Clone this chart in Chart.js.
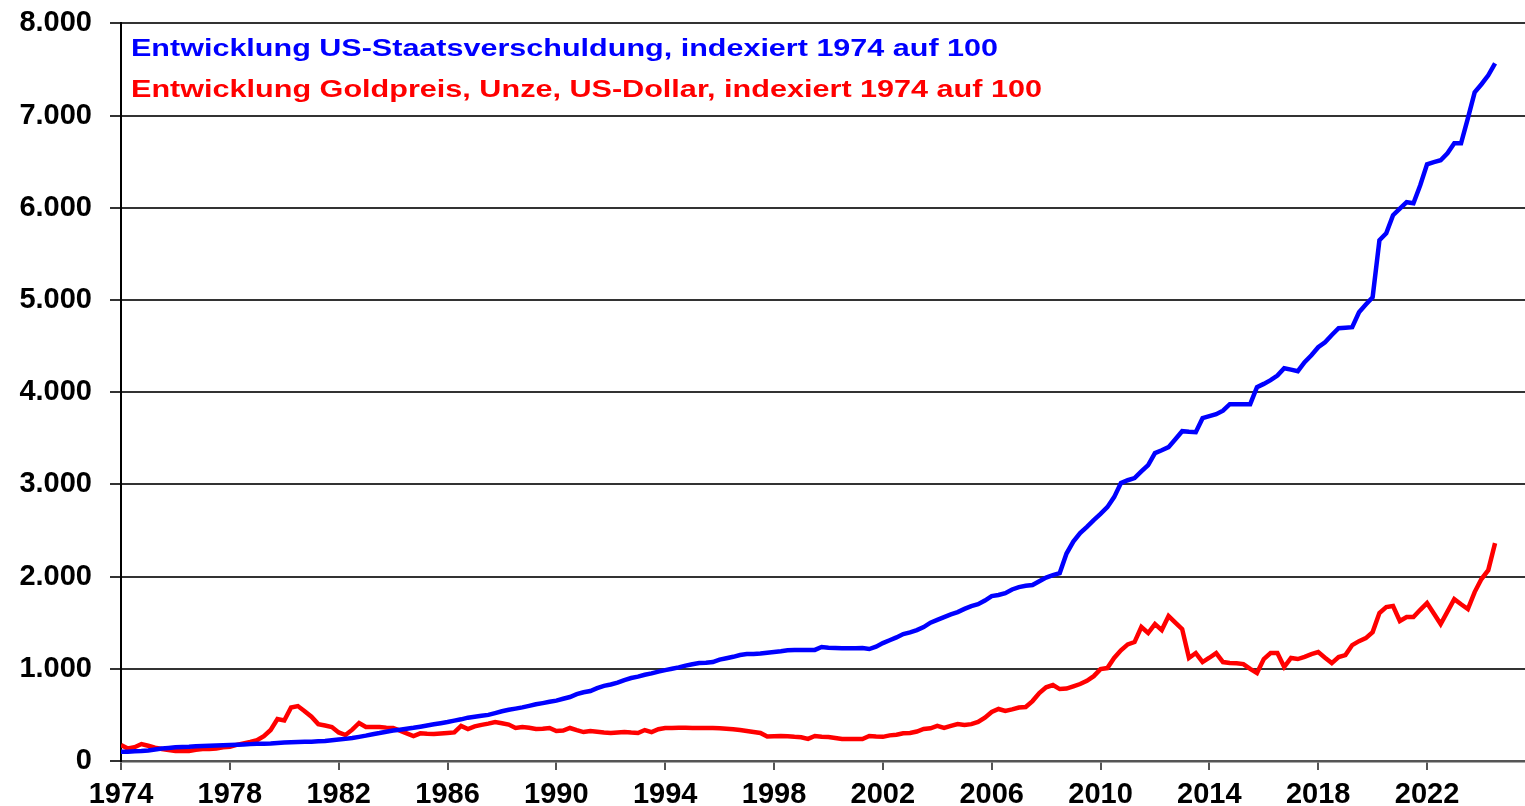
<!DOCTYPE html>
<html>
<head>
<meta charset="utf-8">
<script src="https://cdn.jsdelivr.net/npm/chart.js@4/dist/chart.umd.min.js"></script>
<style>
  html, body { margin: 0; padding: 0; background: #fff; }
  canvas { display: block; }
</style>
</head>
<body>
<canvas id="chart" width="1525" height="806"></canvas>
<script>
// quarterly values, first quarter = 1974, index 1974 = 100
const startYear = 1974;

const debtIndex = [
  100, 100, 105, 108,      // 1974
  115, 125, 135, 142,      // 1975
  148, 152, 155, 160,      // 1976
  163, 166, 168, 170,      // 1977
  173, 176, 180, 183,      // 1978
  186, 188, 190, 195,      // 1979
  200, 203, 205, 208,      // 1980
  210, 213, 217, 225,      // 1981
  232, 240, 249, 262,      // 1982
  275, 290, 303, 318,      // 1983
  330, 340, 350, 360,      // 1984
  372, 385, 398, 410,      // 1985
  423, 438, 452, 470,      // 1986
  480, 490, 500, 520,      // 1987
  540, 555, 568, 582,      // 1988
  598, 615, 628, 642,      // 1989
  655, 675, 694, 725,      // 1990
  745, 759, 790, 815,      // 1991
  830, 850, 878, 900,      // 1992
  915, 935, 950, 970,      // 1993
  986, 1000, 1015, 1035,   // 1994
  1050, 1062, 1065, 1073,  // 1995
  1100, 1115, 1130, 1150,  // 1996
  1160, 1160, 1165, 1175,  // 1997
  1182, 1190, 1200, 1203,  // 1998
  1203, 1203, 1205, 1236,  // 1999
  1228, 1225, 1222, 1222,  // 2000
  1222, 1225, 1214, 1240,  // 2001
  1279, 1310, 1340, 1377,  // 2002
  1395, 1420, 1453, 1500,  // 2003
  1530, 1560, 1590, 1615,  // 2004
  1650, 1680, 1700, 1740,  // 2005
  1789, 1800, 1820, 1860,  // 2006
  1886, 1900, 1908, 1950,  // 2007
  1990, 2016, 2038, 2250,  // 2008
  2380, 2472, 2540, 2612,  // 2009
  2680, 2753, 2862, 3014,  // 2010
  3045, 3068, 3140, 3209,  // 2011
  3339, 3370, 3404, 3490,  // 2012
  3577, 3570, 3566, 3718,  // 2013
  3740, 3761, 3800, 3870,  // 2014
  3870, 3870, 3870, 4054,  // 2015
  4090, 4130, 4180, 4260,  // 2016
  4245, 4228, 4325, 4400,  // 2017
  4488, 4542, 4620, 4694,  // 2018
  4700, 4705, 4867, 4950,  // 2019
  5030, 5648, 5724, 5919,  // 2020
  5990, 6060, 6049, 6244,  // 2021
  6472, 6495, 6515, 6591,  // 2022
  6699, 6699, 6970, 7252,  // 2023
  7340, 7436, 7567         // 2024
];

const goldIndex = [
  173, 135, 150, 184,      // 1974
  165, 145, 130, 118,      // 1975
  108, 108, 108, 122,      // 1976
  130, 130, 135, 148,      // 1977
  155, 175, 190, 206,      // 1978
  225, 270, 336, 455,      // 1979
  440, 580, 596, 540,      // 1980
  480, 400, 385, 369,      // 1981
  310, 282, 340, 412,      // 1982
  369, 369, 369, 362,      // 1983
  358, 330, 300, 271,      // 1984
  300, 295, 293, 298,      // 1985
  304, 310, 380, 347,      // 1986
  375, 392, 405, 423,      // 1987
  410, 395, 358, 369,      // 1988
  360, 347, 350, 358,      // 1989
  325, 330, 358, 335,      // 1990
  314, 325, 318, 310,      // 1991
  304, 310, 314, 308,      // 1992
  304, 336, 314, 345,      // 1993
  358, 358, 360, 360,      // 1994
  358, 358, 358, 358,      // 1995
  356, 350, 345, 336,      // 1996
  325, 315, 304, 265,      // 1997
  268, 271, 268, 262,      // 1998
  258, 240, 271, 262,      // 1999
  260, 250, 238, 238,      // 2000
  238, 238, 271, 265,      // 2001
  262, 278, 285, 300,      // 2002
  304, 320, 347, 355,      // 2003
  380, 358, 380, 401,      // 2004
  390, 400, 423, 470,      // 2005
  531, 564, 542, 560,      // 2006
  580, 585, 650, 737,      // 2007
  800, 824, 780, 785,      // 2008
  810, 835, 870, 920,      // 2009
  997, 1008, 1117, 1200,   // 2010
  1265, 1290, 1453, 1388,  // 2011
  1485, 1420, 1572, 1500,  // 2012
  1431, 1117, 1171, 1073,  // 2013
  1120, 1171, 1073, 1062,  // 2014
  1060, 1051, 1000, 954,   // 2015
  1106, 1171, 1171, 1019,  // 2016
  1117, 1106, 1130, 1160,  // 2017
  1182, 1120, 1062, 1127,  // 2018
  1149, 1257, 1300, 1333,  // 2019
  1398, 1604, 1669, 1680,  // 2020
  1518, 1561, 1561, 1640,  // 2021
  1713, 1600, 1485, 1620,  // 2022
  1756, 1700, 1648, 1832,  // 2023
  1973, 2070, 2363         // 2024
];

const yTicks = [0, 1000, 2000, 3000, 4000, 5000, 6000, 7000, 8000];
const xTicks = [1974, 1978, 1982, 1986, 1990, 1994, 1998, 2002, 2006, 2010, 2014, 2018, 2022];

const debtLabel = 'Entwicklung US-Staatsverschuldung, indexiert 1974 auf 100';
const goldLabel = 'Entwicklung Goldpreis, Unze, US-Dollar, indexiert 1974 auf 100';

const FONT = "'Liberation Sans', Arial, sans-serif";

function toPoints(values) {
  return values.map((v, i) => ({ x: startYear + i / 4, y: v }));
}

function germanNumber(v) {
  return String(v).replace(/\B(?=(\d{3})+(?!\d))/g, '.');
}

// titles written inside the plot, stretched like in the original
const textLegend = {
  id: 'textLegend',
  afterDraw(chart) {
    const ctx = chart.ctx;
    const rows = [
      { text: debtLabel, color: '#0000ff', y: 56, width: 867 },
      { text: goldLabel, color: '#ff0000', y: 97, width: 911 }
    ];
    ctx.save();
    ctx.font = 'bold 24px ' + FONT;
    ctx.textBaseline = 'alphabetic';
    ctx.textAlign = 'left';
    rows.forEach(r => {
      const w = ctx.measureText(r.text).width;
      ctx.save();
      ctx.translate(131, r.y);
      ctx.scale(r.width / w, 1);
      ctx.fillStyle = r.color;
      ctx.fillText(r.text, 0, 0);
      ctx.restore();
    });
    ctx.restore();
  }
};

new Chart(document.getElementById('chart').getContext('2d'), {
  type: 'line',
  data: {
    datasets: [{
      label: debtLabel,
      data: toPoints(debtIndex),
      borderColor: '#0000ff',
      borderWidth: 4.5,
      pointRadius: 0,
      tension: 0
    }, {
      label: goldLabel,
      data: toPoints(goldIndex),
      borderColor: '#ff0000',
      borderWidth: 4.5,
      pointRadius: 0,
      tension: 0
    }]
  },
  options: {
    responsive: false,
    animation: false,
    layout: { padding: { top: 0, right: 0, left: 0, bottom: 0 } },
    plugins: {
      legend: { display: false },
      tooltip: { enabled: false }
    },
    scales: {
      x: {
        type: 'linear',
        min: 1974,
        max: 2025.6,
        afterBuildTicks: s => { s.ticks = xTicks.map(v => ({ value: v })); },
        afterFit: s => { s.height = 45; },
        grid: {
          drawOnChartArea: false,
          drawTicks: true,
          tickLength: 9,
          color: '#555',
          lineWidth: 2
        },
        border: { display: true, color: '#555', width: 2.5 },
        ticks: {
          maxRotation: 0,
          autoSkip: false,
          padding: 8,
          color: '#000',
          font: { family: FONT, size: 29, weight: 'bold' },
          callback: v => String(v)
        }
      },
      y: {
        min: 0,
        max: 8000,
        afterBuildTicks: s => { s.ticks = yTicks.map(v => ({ value: v })); },
        afterFit: s => { s.width = 121; },
        grid: {
          drawTicks: true,
          tickLength: 11,
          color: '#333',
          lineWidth: 2
        },
        border: { display: true, color: '#000', width: 2 },
        ticks: {
          padding: 18,
          color: '#000',
          font: { family: FONT, size: 29, weight: 'bold', lineHeight: 0.37 },
          callback: v => germanNumber(v)
        }
      }
    }
  },
  plugins: [textLegend]
});
</script>
</body>
</html>
